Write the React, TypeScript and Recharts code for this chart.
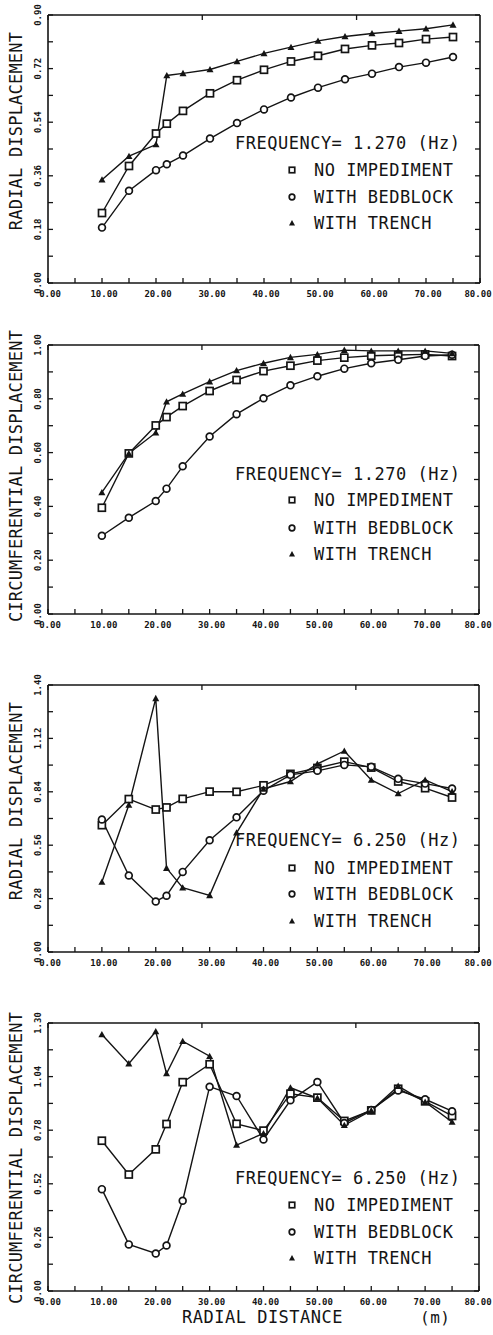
import React from 'react';
import { LineChart, Line, XAxis, YAxis, Customized } from 'recharts';

const distance = [10, 15, 20, 22, 25, 30, 35, 40, 45, 50, 55, 60, 65, 70, 75];
const distanceTicks = [0, 5, 10, 15, 20, 25, 30, 35, 40, 45, 50, 55, 60, 65, 70, 75, 80];

// 1.270 Hz, radial
const radialLowNone = [0.235, 0.393, 0.502, 0.535, 0.578, 0.637, 0.681, 0.716, 0.744, 0.763, 0.786, 0.798, 0.806, 0.819, 0.826];
const radialLowBed = [0.186, 0.31, 0.379, 0.399, 0.428, 0.485, 0.537, 0.583, 0.623, 0.656, 0.684, 0.703, 0.725, 0.74, 0.759];
const radialLowTrench = [0.347, 0.426, 0.465, 0.697, 0.704, 0.717, 0.744, 0.771, 0.792, 0.813, 0.828, 0.838, 0.846, 0.854, 0.867];
const radialLowTicks = [0, 0.09, 0.18, 0.27, 0.36, 0.45, 0.54, 0.63, 0.72, 0.81, 0.9];

// 1.270 Hz, circumferential
const circLowNone = [0.395, 0.597, 0.701, 0.732, 0.773, 0.829, 0.87, 0.903, 0.923, 0.942, 0.953, 0.96, 0.963, 0.965, 0.959];
const circLowBed = [0.291, 0.358, 0.42, 0.466, 0.549, 0.66, 0.743, 0.802, 0.85, 0.884, 0.912, 0.932, 0.945, 0.959, 0.964];
const circLowTrench = [0.452, 0.597, 0.674, 0.789, 0.818, 0.864, 0.905, 0.932, 0.954, 0.965, 0.981, 0.978, 0.978, 0.978, 0.969];
const circLowTicks = [0, 0.1, 0.2, 0.3, 0.4, 0.5, 0.6, 0.7, 0.8, 0.9, 1.0];

// 6.250 Hz, radial
const radialHighNone = [0.665, 0.802, 0.747, 0.758, 0.803, 0.841, 0.84, 0.874, 0.934, 0.965, 0.998, 0.967, 0.894, 0.859, 0.81];
const radialHighBed = [0.695, 0.401, 0.265, 0.295, 0.42, 0.586, 0.706, 0.846, 0.929, 0.95, 0.981, 0.971, 0.908, 0.883, 0.857];
const radialHighTrench = [0.367, 0.771, 1.33, 0.44, 0.337, 0.297, 0.625, 0.855, 0.894, 0.986, 1.054, 0.902, 0.831, 0.902, 0.841];
const radialHighTicks = [0, 0.14, 0.28, 0.42, 0.56, 0.7, 0.84, 0.98, 1.12, 1.26, 1.4];

// 6.250 Hz, circumferential
const circHighNone = [0.729, 0.565, 0.687, 0.81, 1.013, 1.1, 0.811, 0.778, 0.957, 0.938, 0.825, 0.876, 0.981, 0.92, 0.849];
const circHighBed = [0.494, 0.226, 0.182, 0.221, 0.438, 0.991, 0.946, 0.735, 0.925, 1.014, 0.815, 0.878, 0.973, 0.93, 0.872];
const circHighTrench = [1.244, 1.103, 1.259, 1.055, 1.212, 1.139, 0.708, 0.764, 0.986, 0.936, 0.804, 0.875, 0.994, 0.917, 0.82];
const circHighTicks = [0, 0.13, 0.26, 0.39, 0.52, 0.65, 0.78, 0.91, 1.04, 1.17, 1.3];

const legendNames = ['NO IMPEDIMENT', 'WITH BEDBLOCK', 'WITH TRENCH'];

const ink = '#141414';
const mono = '"DejaVu Sans Mono", "Liberation Mono", monospace';

// markers
const Square = ({ cx, cy, s = 7 }: any) => (
  <rect x={cx - s / 2} y={cy - s / 2} width={s} height={s} fill="#fff" stroke={ink} strokeWidth={1.7} />
);
const Ring = ({ cx, cy, r = 3.4 }: any) => (
  <circle cx={cx} cy={cy} r={r} fill="#fff" stroke={ink} strokeWidth={1.7} />
);
const Tri = ({ cx, cy, s = 7 }: any) => (
  <polygon points={`${cx},${cy - s * 0.5} ${cx - s / 2},${cy + s * 0.4} ${cx + s / 2},${cy + s * 0.4}`} fill={ink} />
);

const squareDot = (p: any) => (p.cx == null ? <g key={`sq-${p.index}`} /> : <Square key={`sq-${p.index}`} cx={p.cx} cy={p.cy} />);
const ringDot = (p: any) => (p.cx == null ? <g key={`ri-${p.index}`} /> : <Ring key={`ri-${p.index}`} cx={p.cx} cy={p.cy} />);
const triDot = (p: any) => (p.cx == null ? <g key={`tr-${p.index}`} /> : <Tri key={`tr-${p.index}`} cx={p.cx} cy={p.cy} />);

// ticks (all drawn pointing into the frame)
const BottomTick = (props: any) => {
  const { x, y, payload } = props;
  const v = payload.value;
  return (
    <g>
      <line x1={x} y1={y} x2={x} y2={y - 5} stroke={ink} strokeWidth={1.3} />
      {v % 10 === 0 && (
        <text x={Math.min(x + 2, 478)} y={y + 14} textAnchor="middle" fontFamily={mono} fontWeight="bold" fontSize={9} fill={ink}>
          {v.toFixed(2)}
        </text>
      )}
    </g>
  );
};
const TopTick = (props: any) => (
  <line x1={props.x} y1={props.y} x2={props.x} y2={props.y + 5} stroke={ink} strokeWidth={1.3} />
);
const RightTick = (props: any) => (
  <line x1={props.x} y1={props.y} x2={props.x - 5} y2={props.y} stroke={ink} strokeWidth={1.3} />
);
const makeLeftTick = (step: number) => (props: any) => {
  const { x, y, payload } = props;
  const v = payload.value;
  const labelled = Math.round(v / step) % 2 === 0;
  const lx = x - 7;
  return (
    <g>
      <line x1={x} y1={y} x2={x + 5} y2={y} stroke={ink} strokeWidth={1.3} />
      {labelled && (
        <text x={lx} y={y} transform={`rotate(-90 ${lx} ${y})`} textAnchor="middle" fontFamily={mono} fontWeight="bold" fontSize={9} fill={ink}>
          {v.toFixed(2)}
        </text>
      )}
    </g>
  );
};

type PanelProps = {
  top: number;
  height: number;
  margin: { top: number; right: number; bottom: number; left: number };
  yTicks: number[];
  title: string;
  titleY: number;
  legendY: number[];
  frequency: string;
  none: number[];
  bed: number[];
  trench: number[];
  xTitle?: boolean;
};

const Overlay = ({ p }: { p: PanelProps }) => (
  <g fontFamily={mono} fill={ink}>
    <text x={22} y={p.titleY} transform={`rotate(-90 22 ${p.titleY})`} textAnchor="middle" fontSize={17} letterSpacing={0.2}>
      {p.title}
    </text>
    <text x={235} y={p.legendY[0] + 6} fontSize={17} letterSpacing={0.5}>
      {p.frequency}
    </text>
    {legendNames.map((name, i) => {
      const cy = p.legendY[i + 1];
      return (
        <g key={name}>
          {i === 0 && <Square cx={292} cy={cy} s={5.5} />}
          {i === 1 && <Ring cx={292} cy={cy} r={2.8} />}
          {i === 2 && <Tri cx={292} cy={cy} s={6} />}
          <text x={314} y={cy + 6} fontSize={17} letterSpacing={0.5}>
            {name}
          </text>
        </g>
      );
    })}
    {p.xTitle && (
      <g>
        <text x={182} y={p.height - 12} fontSize={17} letterSpacing={0.5}>
          RADIAL DISTANCE
        </text>
        <text x={420} y={p.height - 12} fontSize={16} letterSpacing={0.5}>
          (m)
        </text>
      </g>
    )}
  </g>
);

const Panel = (p: PanelProps) => {
  const data = distance.map((x, i) => ({ x, none: p.none[i], bed: p.bed[i], trench: p.trench[i] }));
  const yMax = p.yTicks[p.yTicks.length - 1];
  const axisLine = { stroke: ink, strokeWidth: 1.6 };
  // axes get 1px of room (a zero-sized axis is not drawn), so the margins lose 1px
  const m = { top: p.margin.top - 1, right: p.margin.right - 1, bottom: p.margin.bottom - 1, left: p.margin.left - 1 };
  return (
    <div style={{ position: 'absolute', left: 0, top: p.top }}>
      <LineChart width={493} height={p.height} data={data} margin={m}>
        <XAxis
          type="number"
          dataKey="x"
          domain={[0, 80]}
          ticks={distanceTicks}
          interval={0}
          allowDataOverflow
          height={1}
          tickSize={0}
          tickMargin={0}
          tickLine={false}
          axisLine={axisLine}
          tick={BottomTick}
        />
        <XAxis
          xAxisId="top"
          orientation="top"
          type="number"
          domain={[0, 80]}
          ticks={distanceTicks}
          interval={0}
          allowDataOverflow
          height={1}
          tickSize={0}
          tickMargin={0}
          tickLine={false}
          axisLine={axisLine}
          tick={TopTick}
        />
        <YAxis
          type="number"
          domain={[0, yMax]}
          ticks={p.yTicks}
          interval={0}
          allowDataOverflow
          width={1}
          tickSize={0}
          tickMargin={0}
          tickLine={false}
          axisLine={axisLine}
          tick={makeLeftTick(p.yTicks[1])}
        />
        <YAxis
          yAxisId="right"
          orientation="right"
          type="number"
          domain={[0, yMax]}
          ticks={p.yTicks}
          interval={0}
          allowDataOverflow
          width={1}
          tickSize={0}
          tickMargin={0}
          tickLine={false}
          axisLine={axisLine}
          tick={RightTick}
        />
        <Line type="linear" dataKey="none" stroke={ink} strokeWidth={1.4} dot={squareDot} isAnimationActive={false} />
        <Line type="linear" dataKey="bed" stroke={ink} strokeWidth={1.4} dot={ringDot} isAnimationActive={false} />
        <Line type="linear" dataKey="trench" stroke={ink} strokeWidth={1.4} dot={triDot} isAnimationActive={false} />
        <Customized component={<Overlay p={p} />} />
      </LineChart>
    </div>
  );
};

export default function App() {
  return (
    <div style={{ position: 'absolute', left: 0, top: 0, width: 493, height: 1335, background: '#fff' }}>
      <Panel
        top={0}
        height={320}
        margin={{ top: 15, right: 13, bottom: 37, left: 48 }}
        yTicks={radialLowTicks}
        title="RADIAL DISPLACEMENT"
        titleY={131}
        legendY={[143, 170, 197, 223]}
        frequency="FREQUENCY= 1.270 (Hz)"
        none={radialLowNone}
        bed={radialLowBed}
        trench={radialLowTrench}
      />
      <Panel
        top={320}
        height={330}
        margin={{ top: 25, right: 14, bottom: 36, left: 48 }}
        yTicks={circLowTicks}
        title="CIRCUMFERENTIAL DISPLACEMENT"
        titleY={156}
        legendY={[154, 180, 208, 234]}
        frequency="FREQUENCY= 1.270 (Hz)"
        none={circLowNone}
        bed={circLowBed}
        trench={circLowTrench}
      />
      <Panel
        top={650}
        height={330}
        margin={{ top: 35, right: 14, bottom: 28, left: 48 }}
        yTicks={radialHighTicks}
        title="RADIAL DISPLACEMENT"
        titleY={151}
        legendY={[190, 218, 244, 271]}
        frequency="FREQUENCY= 6.250 (Hz)"
        none={radialHighNone}
        bed={radialHighBed}
        trench={radialHighTrench}
      />
      <Panel
        top={980}
        height={355}
        margin={{ top: 43, right: 14, bottom: 44, left: 48 }}
        yTicks={circHighTicks}
        title="CIRCUMFERENTIAL DISPLACEMENT"
        titleY={178}
        legendY={[198, 225, 252, 278]}
        frequency="FREQUENCY= 6.250 (Hz)"
        none={circHighNone}
        bed={circHighBed}
        trench={circHighTrench}
        xTitle
      />
    </div>
  );
}
